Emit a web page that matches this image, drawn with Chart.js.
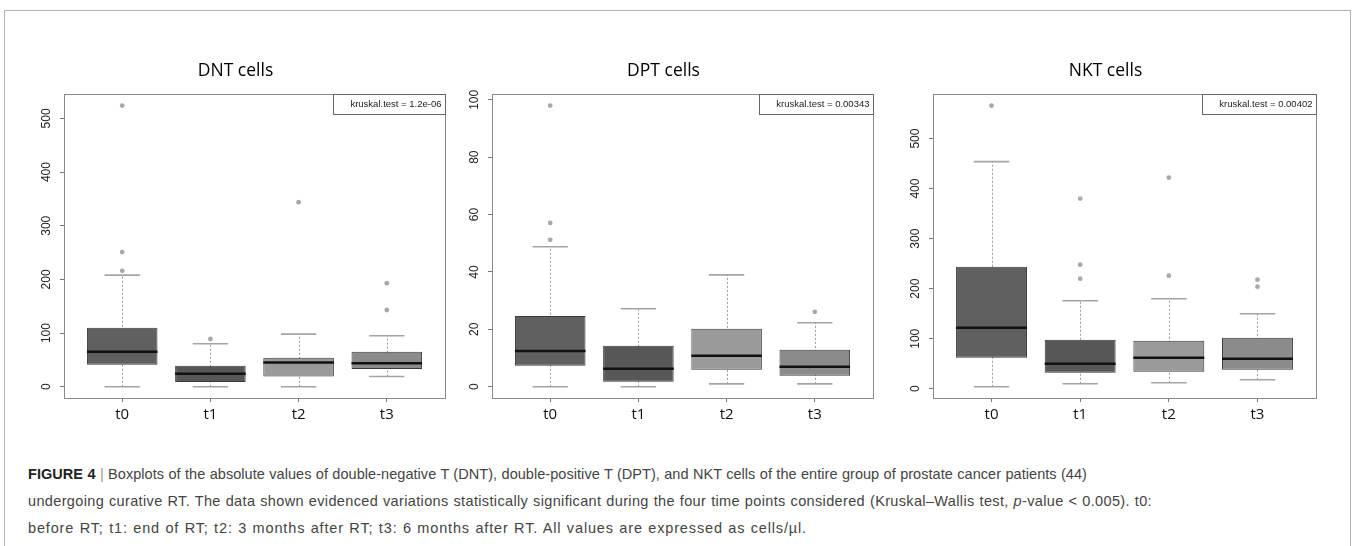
<!DOCTYPE html>
<html>
<head>
<meta charset="utf-8">
<script src="https://cdn.jsdelivr.net/npm/chart.js@4.4.1/dist/chart.umd.min.js"></script>
<style>
  html, body { margin: 0; padding: 0; background: #fff; width: 1352px; height: 546px; overflow: hidden; }
  #frame { position: absolute; left: 4px; top: 10px; width: 1345px; height: 600px; border: 1px solid #b4b4b4; }
  .panel { position: absolute; top: 50px; height: 388px; }
  #caption { position: absolute; left: 28px; top: 461px; font-family: "Liberation Sans", Arial, sans-serif;
             font-size: 14.5px; line-height: 27px; color: #444; }
  #caption .ln { text-align: justify; text-align-last: justify; }
  #caption b { color: #222; }
  #caption .sep { color: #999; }
</style>
</head>
<body>
<div id="frame"></div>
<div class="panel" style="left:24px;width:425px"><canvas id="dntChart"></canvas></div>
<div class="panel" style="left:452px;width:425px"><canvas id="dptChart"></canvas></div>
<div class="panel" style="left:893px;width:427px"><canvas id="nktChart"></canvas></div>
<div id="caption">
  <div class="ln" style="width:1059px;letter-spacing:0.05px"><b>FIGURE 4</b> <span class="sep">|</span> Boxplots of the absolute values of double-negative T (DNT), double-positive T (DPT), and NKT cells of the entire group of prostate cancer patients (44)</div>
  <div class="ln" style="width:1124px;letter-spacing:0.35px">undergoing curative RT. The data shown evidenced variations statistically significant during the four time points considered (Kruskal–Wallis test, <i>p</i>-value &lt; 0.005). t0:</div>
  <div class="ln" style="width:779px;letter-spacing:0.85px">before RT; t1: end of RT; t2: 3 months after RT; t3: 6 months after RT. All values are expressed as cells/µl.</div>
</div>

<script>
const times = ['t0', 't1', 't2', 't3'];
const boxColors = ['#606060', '#575757', '#9a9a9a', '#8b8b8b'];

// DNT cells
const dntLow = [0, 0, 0, 19];
const dntQ1 = [41, 9, 19, 33];
const dntMedian = [65, 24, 45, 44];
const dntQ3 = [110, 39, 54, 65];
const dntHigh = [208, 80, 98, 95];
const dntOut = [[216, 251, 524], [89], [344], [143, 193]];
const dntTicks = [0, 100, 200, 300, 400, 500];

// DPT cells
const dptLow = [0, 0, 1, 1];
const dptQ1 = [7.3, 1.7, 5.9, 3.8];
const dptMedian = [12.5, 6.3, 10.8, 7];
const dptQ3 = [24.7, 14.3, 20.2, 12.9];
const dptHigh = [48.8, 27.2, 39, 22.3];
const dptOut = [[51.2, 57.1, 98], [], [], [26.1]];
const dptTicks = [0, 20, 40, 60, 80, 100];

// NKT cells
const nktLow = [4, 10, 12, 18];
const nktQ1 = [62, 32, 34, 38];
const nktMedian = [122, 50, 62, 60];
const nktQ3 = [244, 98, 96, 102];
const nktHigh = [454, 176, 180, 150];
const nktOut = [[566], [220, 248, 380], [226, 422], [204, 218]];
const nktTicks = [0, 100, 200, 300, 400, 500];

// whiskers, caps, medians, plot box and the kruskal label
const boxExtras = {
  id: 'boxExtras',
  beforeDatasetsDraw(chart, args, opts) {
    const ctx = chart.ctx, y = chart.scales.y;
    const bars = chart.getDatasetMeta(0).data;
    ctx.save();
    bars.forEach((bar, i) => {
      const px = Math.round(bar.x) + 0.5;
      const half = bar.width / 4;
      ctx.strokeStyle = '#9a9a9a';
      ctx.lineWidth = 1;
      ctx.setLineDash([2, 2]);
      ctx.beginPath();
      ctx.moveTo(px, y.getPixelForValue(opts.low[i]));
      ctx.lineTo(px, y.getPixelForValue(opts.high[i]));
      ctx.stroke();
      ctx.setLineDash([]);
      ctx.strokeStyle = '#a4a4a4';
      ctx.lineWidth = 1.6;
      [opts.low[i], opts.high[i]].forEach(v => {
        const py = y.getPixelForValue(v);
        ctx.beginPath();
        ctx.moveTo(bar.x - half, py);
        ctx.lineTo(bar.x + half, py);
        ctx.stroke();
      });
    });
    ctx.restore();
  },
  afterDatasetsDraw(chart, args, opts) {
    const ctx = chart.ctx, y = chart.scales.y, area = chart.chartArea;
    const bars = chart.getDatasetMeta(0).data;
    ctx.save();
    ctx.strokeStyle = '#111';
    ctx.lineWidth = 2.5;
    bars.forEach((bar, i) => {
      const py = y.getPixelForValue(opts.median[i]);
      ctx.beginPath();
      ctx.moveTo(bar.x - bar.width / 2, py);
      ctx.lineTo(bar.x + bar.width / 2, py);
      ctx.stroke();
    });
    ctx.strokeStyle = '#8a8a8a';
    ctx.lineWidth = 1;
    ctx.strokeRect(Math.round(area.left) + 0.5, Math.round(area.top) + 0.5,
                   Math.round(area.right - area.left), Math.round(area.bottom - area.top));

    ctx.font = '9.5px "Liberation Sans", Arial, sans-serif';
    const w = ctx.measureText(opts.test).width;
    const right = Math.round(area.right) + 0.5;
    const left = Math.round(right - w - 21) + 0.5;
    const top = Math.round(area.top) + 0.5;
    ctx.fillStyle = '#fff';
    ctx.fillRect(left, top, right - left, 20);
    ctx.strokeStyle = '#666';
    ctx.strokeRect(left, top, right - left, 20);
    ctx.fillStyle = '#222';
    ctx.textAlign = 'right';
    ctx.textBaseline = 'middle';
    ctx.fillText(opts.test, right - 4, top + 10);
    ctx.restore();
  }
};

function makeChart(id, title, test, low, q1, median, q3, high, outliers, tickVals) {
  const all = low.concat(high, outliers.flat());
  const lo = Math.min(...all), hi = Math.max(...all);
  const pad = (hi - lo) * 0.04;
  const outPoints = [];
  outliers.forEach((list, i) => list.forEach(v => outPoints.push({x: i + 1, y: v})));

  return new Chart(document.getElementById(id), {
    type: 'bar',
    data: {
      datasets: [{
        data: times.map((t, i) => ({x: i + 1, y: [q1[i], q3[i]]})),
        backgroundColor: boxColors,
        borderColor: '#3a3a3a',
        borderWidth: 1,
        borderSkipped: false,
        barPercentage: 0.8,
        categoryPercentage: 1
      }, {
        type: 'scatter',
        data: outPoints,
        pointRadius: 2.4,
        pointBackgroundColor: '#a8a8a8',
        pointBorderWidth: 0
      }]
    },
    options: {
      responsive: true,
      maintainAspectRatio: false,
      animation: false,
      layout: { padding: { left: 0, right: 2, top: 0, bottom: 0 } },
      scales: {
        x: {
          type: 'linear',
          min: 0.34,
          max: 4.66,
          offset: false,
          afterBuildTicks: s => { s.ticks = times.map((t, i) => ({value: i + 1})); },
          afterFit: s => { s.height = 40; },
          ticks: {
            callback: v => times[v - 1],
            autoSkip: false,
            maxRotation: 0,
            padding: 4,
            color: '#111',
            font: { family: 'Open Sans', size: 15 }
          },
          grid: { offset: false, drawOnChartArea: false, tickLength: 4, color: '#777' },
          border: { display: false }
        },
        y: {
          min: lo - pad,
          max: hi + pad,
          afterBuildTicks: s => { s.ticks = tickVals.map(v => ({value: v})); },
          afterFit: s => { s.width = 40; },
          ticks: {
            autoSkip: false,
            minRotation: 90,
            maxRotation: 90,
            crossAlign: 'center',
            padding: 3,
            color: '#222',
            font: { family: 'Liberation Sans', size: 12 }
          },
          grid: { drawOnChartArea: false, tickLength: 4, color: '#777' },
          border: { display: false }
        }
      },
      plugins: {
        legend: { display: false },
        tooltip: { enabled: false },
        title: {
          display: true,
          text: title,
          color: '#000',
          font: { family: 'Open Sans', size: 17.5, weight: 'normal' },
          padding: { top: 11, bottom: 12.3 }
        },
        boxExtras: { low: low, high: high, median: median, test: test }
      }
    },
    plugins: [boxExtras]
  });
}

const dntChart = makeChart('dntChart', 'DNT cells', 'kruskal.test = 1.2e-06',
  dntLow, dntQ1, dntMedian, dntQ3, dntHigh, dntOut, dntTicks);
const dptChart = makeChart('dptChart', 'DPT cells', 'kruskal.test = 0.00343',
  dptLow, dptQ1, dptMedian, dptQ3, dptHigh, dptOut, dptTicks);
const nktChart = makeChart('nktChart', 'NKT cells', 'kruskal.test = 0.00402',
  nktLow, nktQ1, nktMedian, nktQ3, nktHigh, nktOut, nktTicks);
</script>
</body>
</html>
